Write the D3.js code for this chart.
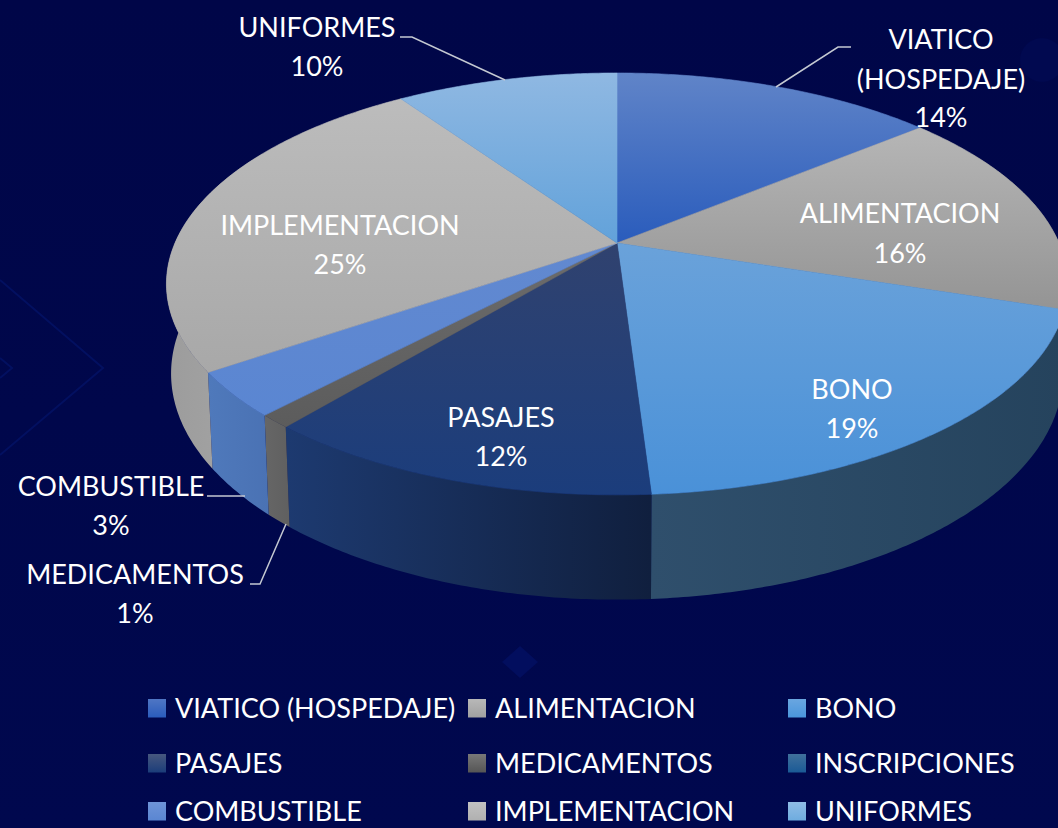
<!DOCTYPE html>
<html lang="es">
<head>
<meta charset="UTF-8">
<title>Gastos</title>
<script src="https://cdn.jsdelivr.net/npm/d3@7"></script>
<style>
  body { margin: 0; background: #00064a; overflow: hidden; }
  text { font-family: Lato, "Open Sans", sans-serif; fill: #fff; }
</style>
</head>
<body>
<script>
const categories = ["VIATICO (HOSPEDAJE)", "ALIMENTACION", "BONO", "PASAJES", "MEDICAMENTOS",
  "INSCRIPCIONES", "COMBUSTIBLE", "IMPLEMENTACION", "UNIFORMES"];
// slice sizes, the labels show them rounded
const percents = [14, 16, 19, 12, 1, 0, 3.4, 25, 9.6];

// top face gradient, top to bottom of the slice
const topStart = ["#6084c8", "#b6b6b6", "#6aa2da", "#30426f", "#6c6c6c", "#2f6096", "#6289d0", "#bcbcbc", "#8fb8e2"];
const topEnd = ["#2a5cbc", "#949494", "#4a91d8", "#1b3d7c", "#5c5c5c", "#1f5a96", "#5a86d2", "#a8a8a8", "#62a2da"];
// side wall gradient, left to right
const wallStart = ["#2a4680", "#777777", "#2f4f6c", "#1d3a70", "#666666", "#1f4a70", "#4f79bb", "#9c9c9c", "#5a86b0"];
const wallEnd = ["#24407a", "#6a6a6a", "#25435d", "#101f3e", "#606060", "#1f4a70", "#4a72b4", "#a6a6a6", "#5a86b0"];
const legendStart = ["#4f76c4", "#b8b8b8", "#6aa6e0", "#47577e", "#787878", "#40709c", "#6e94d8", "#c2c2c2", "#8fbce6"];
const legendEnd = ["#2a5cbc", "#a0a0a0", "#4a96dc", "#1b3d7a", "#555555", "#1a5a96", "#5a86d2", "#b0b0b0", "#6eacdf"];

const width = 1058, height = 828;

// pie is drawn on a unit circle and pushed through a small perspective camera
const cam = { cx: 617, cy: 243, a: 442, b: 203, k: 0.194, depth: 88, m: 0.01 };

function project(angle, r, h) {
  const u = r * Math.sin(angle);
  const v = -r * Math.cos(angle);
  const w = 1 - cam.k * v + cam.m * h;
  return [cam.cx + cam.a * u / w, cam.cy + (cam.b * v + cam.depth * h) / w];
}

const svg = d3.select("body").append("svg")
  .attr("width", width)
  .attr("height", height)
  .style("display", "block");

const defs = svg.append("defs");

function addGradient(id, from, to, horizontal) {
  const g = defs.append("linearGradient").attr("id", id)
    .attr("x1", 0).attr("y1", 0)
    .attr("x2", horizontal ? 1 : 0).attr("y2", horizontal ? 0 : 1);
  g.append("stop").attr("offset", "0%").attr("stop-color", from);
  g.append("stop").attr("offset", "100%").attr("stop-color", to);
}

categories.forEach((c, i) => {
  addGradient("top" + i, topStart[i], topEnd[i], false);
  addGradient("wall" + i, wallStart[i], wallEnd[i], true);
  addGradient("leg" + i, legendStart[i], legendEnd[i], false);
});

// background
addGradient("bg", "#000648", "#00084e", false);
svg.append("rect").attr("width", width).attr("height", height).attr("fill", "url(#bg)");
const deco = svg.append("g").attr("fill", "none").attr("stroke", "#04146a").attr("stroke-width", 2).attr("opacity", 0.7);
deco.append("path").attr("d", "M0,280L103,368L0,455");
deco.append("path").attr("d", "M0,358L12,368L0,378");
svg.append("path").attr("d", "M520,646L538,662L520,678L502,662Z").attr("fill", "#020e5e");
svg.append("circle").attr("cx", 1042).attr("cy", 60).attr("r", 22).attr("fill", "#010950");

const pie = d3.pie().sort(null).value(d => d.value);
const slices = pie(categories.map((name, i) => ({ name, value: percents[i], i })))
  .filter(s => s.data.value > 0);

const line = d3.line();

function arcPoints(a0, a1, r, h) {
  const n = Math.max(2, Math.ceil((a1 - a0) / 0.01));
  return d3.range(n + 1).map(j => project(a0 + (a1 - a0) * j / n, r, h));
}

// side walls, only the front half can be seen
const wallMin = Math.PI / 2 - 0.5, wallMax = 1.5 * Math.PI + 0.5;
const walls = slices
  .map(s => ({ s, a0: Math.max(s.startAngle, wallMin), a1: Math.min(s.endAngle, wallMax) }))
  .filter(d => d.a1 > d.a0);

svg.append("g").selectAll("path")
  .data(walls)
  .enter()
  .append("path")
  .attr("d", d => line(arcPoints(d.a0, d.a1, 1, 0).concat(arcPoints(d.a0, d.a1, 1, 1).reverse())) + "Z")
  .attr("fill", d => `url(#wall${d.s.data.i})`);

// top faces, same colour stroke hides the seams
svg.append("g").selectAll("path")
  .data(slices)
  .enter()
  .append("path")
  .attr("d", d => line([project(0, 0, 0)].concat(arcPoints(d.startAngle, d.endAngle, 1, 0))) + "Z")
  .attr("fill", d => `url(#top${d.data.i})`)
  .attr("stroke", d => `url(#top${d.data.i})`)
  .attr("stroke-width", 0.6);

// leader lines
const leaders = [
  [[400, 37], [412, 37], [505, 80]],
  [[851, 47], [838, 47], [776, 87]],
  [[207, 496], [245, 496]],
  [[250, 584], [260, 584], [286, 524]]
];
svg.append("g").selectAll("path")
  .data(leaders)
  .enter()
  .append("path")
  .attr("d", d => line(d))
  .attr("fill", "none")
  .attr("stroke", "#c4c9d2")
  .attr("stroke-width", 1.5);

// data labels: [category index, centre x, baseline of each line]
const labelLayout = [
  [8, 317, 37, 76],
  [7, 340, 235, 274],
  [1, 900, 223, 263],
  [2, 852, 399, 438],
  [3, 501, 427, 466],
  [6, 111, 496, 535],
  [4, 135, 584, 623]
];
const fontSize = 27;
const labels = svg.append("g").attr("text-anchor", "middle").attr("font-size", fontSize);
labelLayout.forEach(([i, x, y1, y2]) => {
  labels.append("text").attr("x", x).attr("y", y1).text(categories[i]);
  labels.append("text").attr("x", x).attr("y", y2).text(Math.round(percents[i]) + "%");
});
// viatico wraps on two lines
labels.append("text").attr("x", 941).attr("y", 49).text("VIATICO");
labels.append("text").attr("x", 941).attr("y", 89).text("(HOSPEDAJE)");
labels.append("text").attr("x", 941).attr("y", 127).text(percents[0] + "%");

// legend, last row pulled up a little so it stays inside the page
const legendX = d3.scalePoint().domain([0, 1, 2]).range([148, 788]);
const legendY = d3.scaleOrdinal().domain([0, 1, 2]).range([699, 754, 802]);
const legend = svg.append("g").selectAll("g")
  .data(categories)
  .enter()
  .append("g")
  .attr("transform", (d, i) => `translate(${legendX(i % 3)},${legendY(Math.floor(i / 3))})`);
legend.append("rect")
  .attr("width", 18).attr("height", 18.5)
  .attr("fill", (d, i) => `url(#leg${i})`);
legend.append("text")
  .attr("x", 27).attr("y", 19)
  .attr("font-size", fontSize)
  .text(d => d);
</script>
</body>
</html>
